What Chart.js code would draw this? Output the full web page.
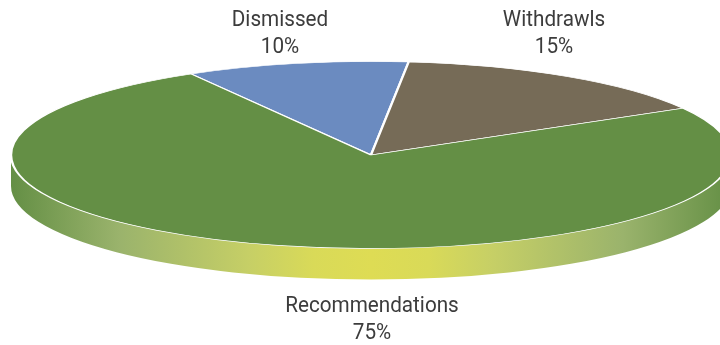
<!DOCTYPE html>
<html>
<head>
<meta charset="utf-8">
<style>
  html, body { margin: 0; padding: 0; background: #fff; }
  canvas { display: block; }
</style>
<script src="https://cdn.jsdelivr.net/npm/chart.js@4/dist/chart.umd.min.js"></script>
</head>
<body>
<canvas id="pieChart" width="720" height="345"></canvas>
<script>
const categories = ['Dismissed', 'Withdrawls', 'Recommendations'];
const shares = [10, 15, 75];
const shareLabels = ['10%', '15%', '75%'];

const sliceColors = ['#6b8bc0', '#766b57', '#648f45'];

// the pie is drawn flat by Chart.js, then squashed to look tilted
const squash = 0.26;
const centerY = 155;
const wallDepth = 31;

const tiltPlugin = {
    id: 'tilt',
    beforeDatasetsDraw(chart) {
        const arc = chart.getDatasetMeta(0).data[0];
        const ctx = chart.ctx;
        const x = arc.x, r = arc.outerRadius, ry = r * squash;

        // front wall of the disc
        const grad = ctx.createLinearGradient(x - r, 0, x + r, 0);
        grad.addColorStop(0, '#648f45');
        grad.addColorStop(0.15, '#9ab36c');
        grad.addColorStop(0.33, '#c6cf66');
        grad.addColorStop(0.42, '#d9da58');
        grad.addColorStop(0.5, '#dedc54');
        grad.addColorStop(0.58, '#d9da58');
        grad.addColorStop(0.67, '#c6cf66');
        grad.addColorStop(0.85, '#9ab36c');
        grad.addColorStop(1, '#648f45');
        ctx.save();
        ctx.beginPath();
        ctx.ellipse(x, centerY, r, ry, 0, 0, Math.PI);
        ctx.lineTo(x - r, centerY + wallDepth);
        ctx.ellipse(x, centerY + wallDepth, r, ry, 0, Math.PI, 0, true);
        ctx.closePath();
        ctx.fillStyle = grad;
        ctx.fill();
        ctx.restore();

        ctx.save();
        ctx.translate(0, centerY);
        ctx.scale(1, squash);
        ctx.translate(0, -arc.y);
    },
    afterDatasetsDraw(chart) {
        chart.ctx.restore();
    }
};

const labelPlugin = {
    id: 'sliceLabels',
    afterDraw(chart, args, opts) {
        const ctx = chart.ctx;
        ctx.save();
        ctx.font = opts.font;
        ctx.fillStyle = opts.color;
        ctx.textAlign = 'center';
        ctx.textBaseline = 'middle';
        categories.forEach((name, i) => {
            const p = opts.positions[i];
            // the original font is a bit condensed
            ctx.save();
            ctx.translate(p.x, p.y);
            ctx.scale(opts.widthScale, 1);
            ctx.fillText(name, 0, 0);
            ctx.fillText(shareLabels[i], 0, opts.lineHeight);
            ctx.restore();
        });
        ctx.restore();
    }
};

new Chart(document.getElementById('pieChart'), {
    type: 'pie',
    data: {
        labels: categories,
        datasets: [{
            data: shares,
            backgroundColor: sliceColors,
            borderColor: '#ffffff',
            borderWidth: 2.5,
            clip: false
        }]
    },
    options: {
        responsive: false,
        animation: false,
        rotation: -30,
        radius: 360,
        layout: { padding: { left: 22 } },
        events: [],
        plugins: {
            legend: { display: false },
            tooltip: { enabled: false },
            sliceLabels: {
                font: '22px Roboto',
                widthScale: 0.94,
                color: '#3c3c3c',
                lineHeight: 27,
                positions: [{ x: 280, y: 20 }, { x: 554, y: 20 }, { x: 372, y: 306 }]
            }
        }
    },
    plugins: [tiltPlugin, labelPlugin]
});
</script>
</body>
</html>
